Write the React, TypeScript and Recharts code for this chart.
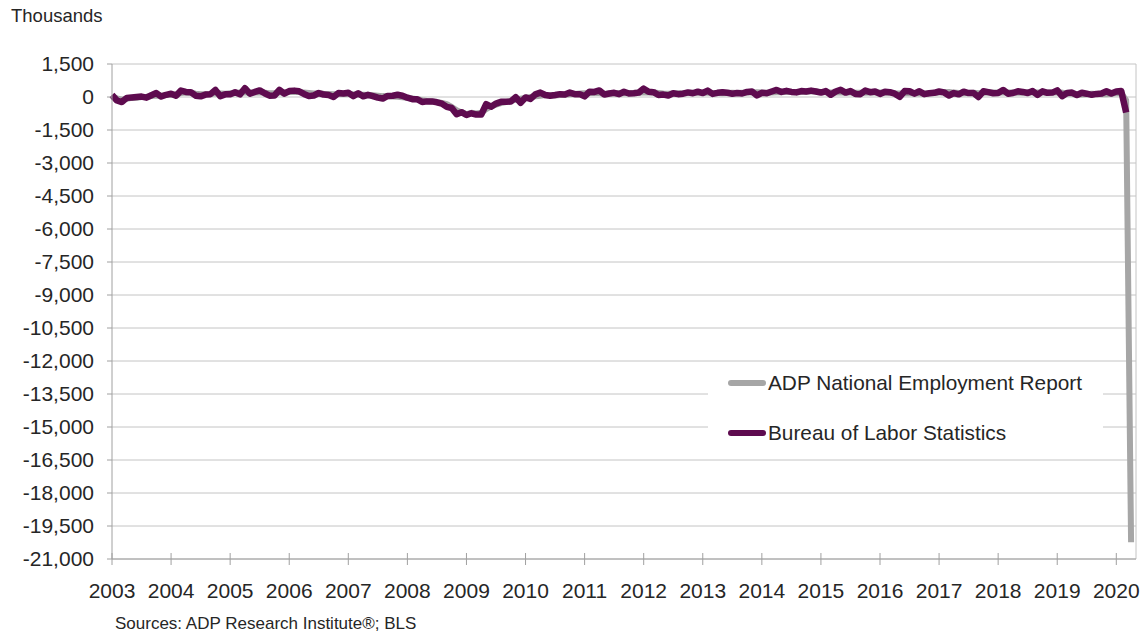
import { LineChart, Line, XAxis, YAxis, CartesianGrid, ReferenceLine } from 'recharts';

// monthly change, thousands of jobs, Jan 2003 .. Apr 2020
const startYear = 2003;
const yearTicks = [2003, 2004, 2005, 2006, 2007, 2008, 2009, 2010, 2011, 2012, 2013, 2014, 2015, 2016, 2017, 2018, 2019, 2020];
const valueTicks = [1500, 0, -1500, -3000, -4500, -6000, -7500, -9000, -10500, -12000, -13500, -15000, -16500, -18000, -19500, -21000];

const adpValues = [
  20, -60, -120, -80, -40, -30, 0, 10, 40, 70, 60, 90,
  100, 120, 180, 200, 190, 150, 130, 120, 140, 170, 160, 150,
  170, 180, 200, 210, 200, 210, 220, 200, 170, 180, 200, 210,
  230, 240, 230, 200, 180, 160, 170, 150, 140, 130, 140, 150,
  140, 120, 110, 100, 90, 80, 60, 40, 30, 20, 10, -10,
  -40, -70, -100, -150, -180, -200, -230, -270, -330, -450, -600, -700,
  -780, -720, -750, -720, -550, -430, -350, -280, -230, -170, -130, -80,
  -40, 0, 30, 60, 90, 80, 70, 90, 100, 120, 140, 160,
  170, 180, 190, 180, 150, 160, 170, 180, 170, 180, 190, 210,
  220, 210, 200, 180, 160, 150, 160, 170, 170, 180, 190, 200,
  190, 190, 180, 180, 170, 180, 190, 180, 190, 200, 210, 220,
  200, 190, 200, 220, 220, 240, 230, 220, 230, 240, 250, 250,
  230, 220, 210, 200, 210, 220, 200, 190, 190, 190, 200, 210,
  200, 190, 190, 170, 160, 170, 180, 170, 160, 160, 170, 180,
  200, 220, 230, 200, 180, 170, 180, 190, 170, 190, 200, 210,
  210, 220, 210, 200, 190, 190, 200, 200, 210, 220, 210, 200,
  210, 200, 160, 150, 100, 110, 130, 150, 140, 130, 120, 150,
  180, 170, -150, -20236,
];

const blsValues = [
  90, -160, -230, -40, -20, 0, 20, -30, 80, 180, 20, 100,
  150, 60, 290, 230, 220, 60, 30, 110, 130, 320, 40, 120,
  120, 220, 120, 400, 150, 230, 300, 170, 60, 70, 320, 150,
  270, 290, 260, 140, 40, 70, 180, 110, 90, 0, 180, 160,
  190, 40, 170, 30, 100, 40, -30, -70, 50, 60, 100, 60,
  -30, -100, -100, -230, -200, -200, -240, -300, -450, -500, -780, -690,
  -820, -740, -800, -800, -330, -440, -300, -220, -220, -200, -10, -260,
  -20, -90, 120, 200, 90, 60, 90, 130, 110, 200, 130, 130,
  30, 240, 230, 300, 110, 160, 190, 130, 240, 160, 170, 200,
  380, 240, 220, 90, 110, 70, 170, 130, 150, 210, 170, 240,
  180, 290, 140, 190, 220, 190, 150, 180, 160, 230, 250, 70,
  190, 170, 250, 320, 230, 280, 230, 210, 270, 250, 290, 250,
  200, 270, 100, 250, 330, 200, 270, 140, 130, 290, 220, 250,
  140, 240, 220, 150, 10, 270, 260, 150, 260, 130, 170, 190,
  250, 210, 70, 180, 120, 240, 180, 180, 0, 260, 220, 170,
  180, 320, 150, 180, 260, 230, 180, 270, 100, 260, 190, 200,
  300, 40, 180, 200, 90, 190, 150, 100, 140, 160, 260, 160,
  250, 270, -700,
];

const ADP_COLOR = '#a6a6a6';
const BLS_COLOR = '#5e0b4f';
const TEXT_COLOR = '#262626';
const FONT = '"Liberation Sans", Arial, sans-serif';

const chartData = adpValues.map((adp, i) => ({
  month: i,
  adp,
  bls: i < blsValues.length ? blsValues[i] : null,
}));

const YearTick = ({ x, y, payload }: any) => (
  <g>
    <line x1={x} x2={x} y1={y - 6} y2={y + 6} stroke="#a0a0a0" strokeWidth={1} />
    <text x={x} y={y + 39} textAnchor="middle" fill={TEXT_COLOR} fontSize={21} fontFamily={FONT}>
      {startYear + payload.value / 12}
    </text>
  </g>
);

const App = () => {
  return (
    <div style={{ position: 'absolute', left: 0, top: 0, width: 1146, height: 639, background: '#fff', fontFamily: FONT, color: TEXT_COLOR }}>
      <div style={{ position: 'absolute', left: 11, top: 5, fontSize: 18.5 }}>Thousands</div>
      <LineChart
        width={1146}
        height={639}
        data={chartData}
        margin={{ top: 64, right: 10, bottom: 40, left: 0 }}
        style={{ position: 'absolute', left: 0, top: 0 }}
      >
        <CartesianGrid vertical={false} stroke="#c4c4c4" strokeWidth={1} />
        <XAxis
          dataKey="month"
          type="number"
          domain={[0, 208]}
          ticks={yearTicks.map(y => (y - startYear) * 12)}
          interval={0}
          height={40}
          axisLine={{ stroke: '#a0a0a0' }}
          tickLine={false}
          tickSize={0}
          tickMargin={0}
          tick={<YearTick />}
        />
        <YAxis
          type="number"
          domain={[-21000, 1500]}
          ticks={valueTicks}
          interval={0}
          width={112}
          axisLine={{ stroke: '#a0a0a0' }}
          tickLine={{ stroke: '#a0a0a0' }}
          tickSize={5}
          tickMargin={13}
          tick={{ fill: TEXT_COLOR, fontSize: 21, fontFamily: FONT }}
          tickFormatter={(v: number) => v.toLocaleString('en-US')}
        />
        <ReferenceLine x={208} stroke="#c4c4c4" strokeWidth={1} />
        <Line
          type="linear"
          dataKey="adp"
          stroke={ADP_COLOR}
          strokeWidth={6}
          dot={false}
          isAnimationActive={false}
          strokeLinejoin="round"
        />
        <Line
          type="linear"
          dataKey="bls"
          stroke={BLS_COLOR}
          strokeWidth={6.5}
          dot={false}
          isAnimationActive={false}
          strokeLinejoin="round"
        />
      </LineChart>
      <div
        style={{
          position: 'absolute',
          left: 708,
          top: 366,
          width: 395,
          height: 88,
          background: '#fff',
          fontSize: 20.8,
        }}
      >
        {[
          { name: 'ADP National Employment Report', color: ADP_COLOR, top: 5 },
          { name: 'Bureau of Labor Statistics', color: BLS_COLOR, top: 55 },
        ].map(item => (
          <div key={item.name} style={{ position: 'absolute', left: 20, top: item.top, display: 'flex', alignItems: 'center', whiteSpace: 'nowrap' }}>
            <span style={{ display: 'inline-block', width: 38, height: 6, borderRadius: 3, background: item.color, marginRight: 2 }} />
            <span>{item.name}</span>
          </div>
        ))}
      </div>
      <div style={{ position: 'absolute', left: 115, top: 614, fontSize: 17 }}>Sources: ADP Research Institute®; BLS</div>
    </div>
  );
};

export default App;
